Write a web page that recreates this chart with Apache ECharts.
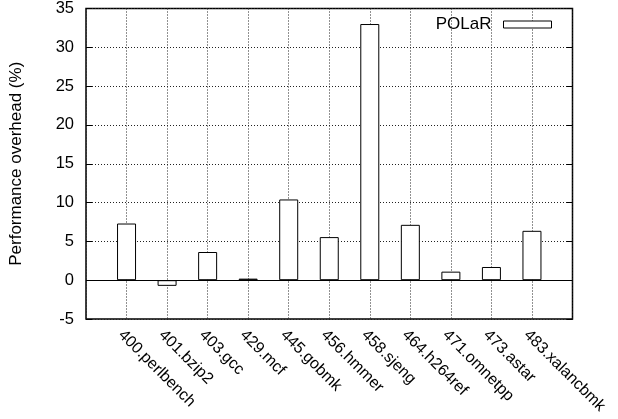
<!DOCTYPE html>
<html>
<head>
<meta charset="utf-8">
<script src="https://cdn.jsdelivr.net/npm/echarts@6/dist/echarts.min.js"></script>
<style>html,body{margin:0;padding:0;background:#fff}#c{width:618px;height:419px}</style>
</head>
<body>
<div id="c"></div>
<script>
const categories = ['400.perlbench','401.bzip2','403.gcc','429.mcf','445.gobmk','456.hmmer','458.sjeng','464.h264ref','471.omnetpp','473.astar','483.xalancbmk'];
const polarValues = [7.3, -0.73, 3.63, 0.2, 10.4, 5.55, 33.0, 7.13, 1.1, 1.7, 6.36];
const yTicks = {min: -5, max: 35, step: 5};
const seriesName = 'POLaR';
const yAxisTitle = 'Performance overhead (%)';

// pad one empty slot on each side (gnuplot-style range)
const xData = [''].concat(categories, ['']);
const yData = ['-'].concat(polarValues, ['-']);

const font = 'Liberation Sans, Arial, Helvetica, sans-serif';
const chart = echarts.init(document.getElementById('c'), null, {renderer: 'canvas'});
chart.setOption({
  animation: false,
  backgroundColor: '#fff',
  textStyle: {fontFamily: font},
  grid: {left: 76, right: 45.5, top: 7, bottom: 100, show: true, borderColor: '#000', borderWidth: 1.5, backgroundColor: 'transparent'},
  legend: {
    top: 11, right: 61, align: 'right', itemWidth: 48, itemHeight: 7, icon: 'rect',
    textStyle: {fontSize: 17, color: '#000', fontFamily: font, padding: [0, 7, 0, 0]},
    itemStyle: {color: '#fff', borderColor: '#000', borderWidth: 1},
    data: [seriesName]
  },
  xAxis: {
    type: 'category', data: xData, boundaryGap: false,
    axisLine: {show: false, onZero: false},
    axisTick: {show: false},
    axisLabel: {interval: 0, rotate: -45, fontSize: 16, color: '#000', margin: 8, align: 'left', verticalAlign: 'top', fontFamily: font},
    splitLine: {show: true, interval: 0, lineStyle: {color: '#222', type: [1, 2], width: 1}}
  },
  yAxis: [{
    type: 'value', min: yTicks.min, max: yTicks.max, interval: yTicks.step,
    name: yAxisTitle, nameLocation: 'middle', nameGap: 61,
    nameTextStyle: {fontSize: 17, color: '#000', fontFamily: font},
    axisLine: {show: false},
    axisTick: {show: true, inside: true, length: 6, lineStyle: {color: '#000', width: 1}},
    axisLabel: {fontSize: 16.5, color: '#000', margin: 12, fontFamily: font},
    splitLine: {show: true, lineStyle: {color: '#222', type: [1, 2], width: 1}}
  }, {
    type: 'value', position: 'right', min: yTicks.min, max: yTicks.max, interval: yTicks.step,
    axisLine: {show: false},
    axisTick: {show: true, inside: true, length: 6, lineStyle: {color: '#000', width: 1}},
    axisLabel: {show: false},
    splitLine: {show: false}
  }],
  series: [{
    name: seriesName, type: 'bar', data: yData, barWidth: 19,
    itemStyle: {color: '#fff', borderColor: '#000', borderWidth: 1},
    markLine: {
      silent: true, symbol: ['none', 'none'], label: {show: false},
      lineStyle: {color: '#000', type: 'solid', width: 1.2},
      data: [{yAxis: 0}]
    }
  }]
});
</script>
</body>
</html>
